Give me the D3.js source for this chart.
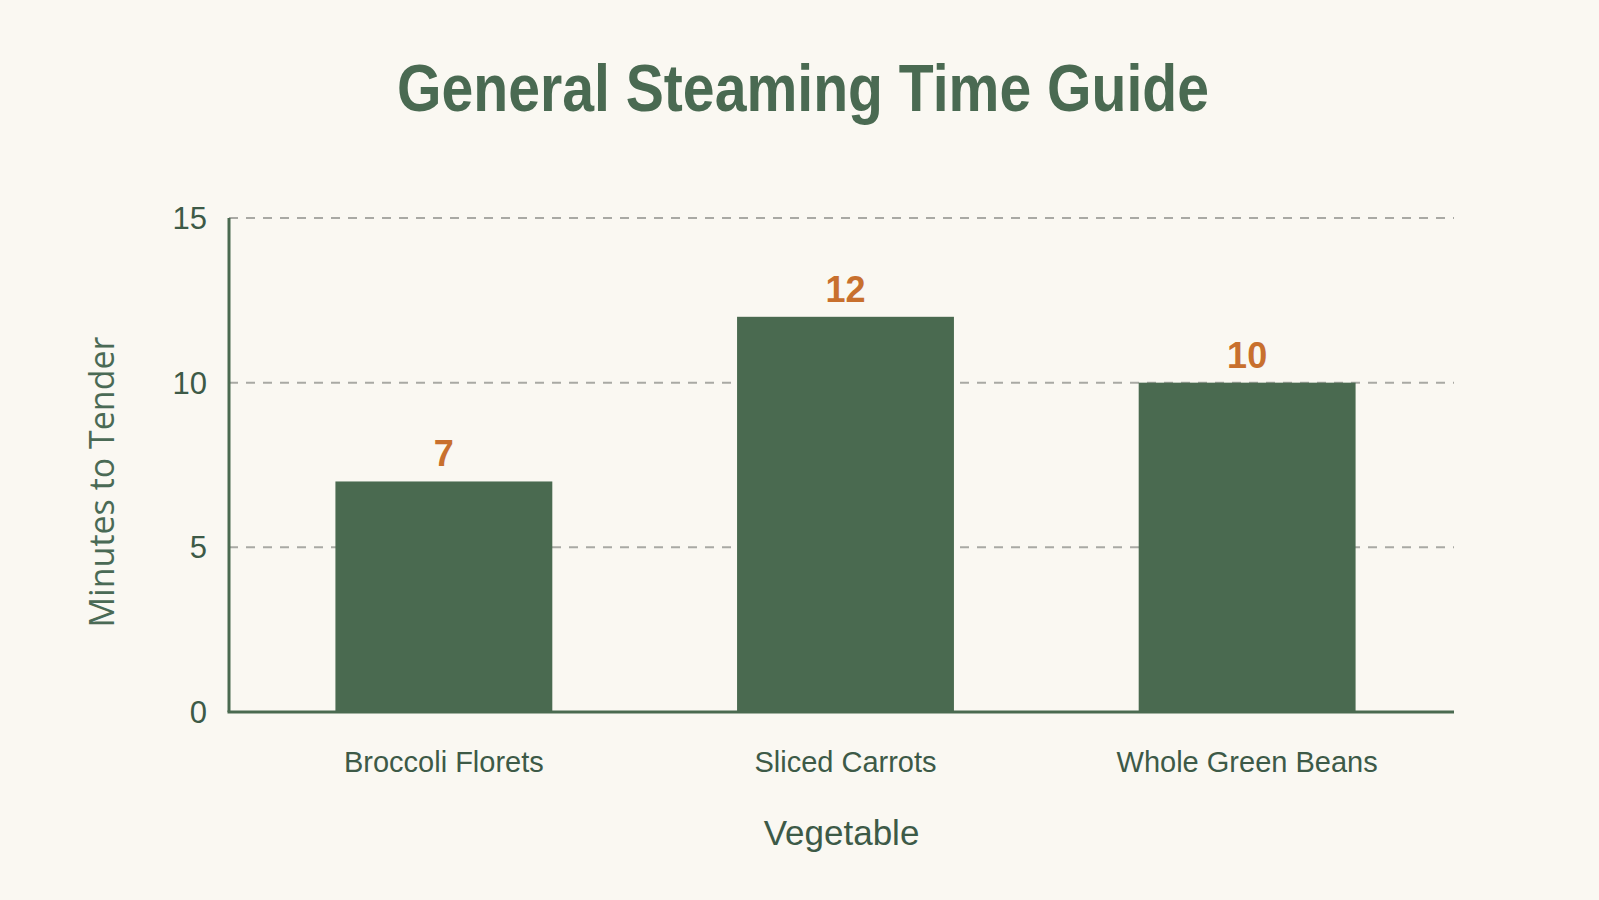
<!DOCTYPE html>
<html>
<head>
<meta charset="utf-8">
<script src="https://cdn.jsdelivr.net/npm/d3@7"></script>
<style>
  html, body { margin: 0; padding: 0; background: #faf8f2; }
  svg text { font-family: "Liberation Sans Narrow", "Liberation Sans", sans-serif; }
</style>
</head>
<body>
<div id="container"></div>
<script>
// Chart data
var vegetables = ["Broccoli Florets", "Sliced Carrots", "Whole Green Beans"];
var minutes = [7, 12, 10];
var yTicks = [0, 5, 10, 15];

var width = 1599,
    height = 900;

var svg = d3.select("#container")
    .append("svg")
    .attr("width", width)
    .attr("height", height);

svg.append("rect")
    .attr("width", width)
    .attr("height", height)
    .attr("fill", "#faf8f2");

// Plot area
var plotLeft = 229, plotRight = 1454, plotTop = 218, plotBottom = 712;

var xScale = d3.scaleBand()
    .domain(vegetables)
    .range([plotLeft + 4, plotRight + 4])
    .paddingInner(0.46)
    .paddingOuter(0.255);

var yScale = d3.scaleLinear()
    .domain([0, 15])
    .range([plotBottom, plotTop]);

// Title
svg.append("text")
    .attr("x", 803)
    .attr("y", 111)
    .attr("text-anchor", "middle")
    .attr("textLength", 812)
    .attr("lengthAdjust", "spacingAndGlyphs")
    .style("font-size", "66px")
    .style("font-weight", "bold")
    .style("fill", "#4a6a52")
    .text("General Steaming Time Guide");

// Dashed grid lines (not at zero)
svg.selectAll(".grid")
    .data(yTicks.filter(function(d) { return d > 0; }))
    .enter()
    .append("line")
    .attr("class", "grid")
    .attr("x1", plotLeft)
    .attr("x2", plotRight)
    .attr("y1", function(d) { return yScale(d); })
    .attr("y2", function(d) { return yScale(d); })
    .attr("stroke", "#a9a9a4")
    .attr("stroke-width", 2)
    .attr("stroke-dasharray", "9,8");

// Bars
svg.selectAll(".bar")
    .data(vegetables)
    .enter()
    .append("rect")
    .attr("class", "bar")
    .attr("x", function(d) { return xScale(d); })
    .attr("width", xScale.bandwidth())
    .attr("y", function(d, i) { return yScale(minutes[i]); })
    .attr("height", function(d, i) { return plotBottom - yScale(minutes[i]); })
    .attr("fill", "#4a6a50");

// Value labels
svg.selectAll(".value")
    .data(vegetables)
    .enter()
    .append("text")
    .attr("class", "value")
    .attr("x", function(d) { return xScale(d) + xScale.bandwidth() / 2; })
    .attr("y", function(d, i) { return yScale(minutes[i]) - 15; })
    .attr("text-anchor", "middle")
    .style("font-size", "36px")
    .style("font-weight", "bold")
    .style("fill", "#c8702e")
    .text(function(d, i) { return minutes[i]; });

// Axis lines
svg.append("line")
    .attr("x1", plotLeft).attr("x2", plotLeft)
    .attr("y1", plotTop).attr("y2", plotBottom)
    .attr("stroke", "#4a6a50")
    .attr("stroke-width", 3);
svg.append("line")
    .attr("x1", plotLeft - 1.5).attr("x2", plotRight)
    .attr("y1", plotBottom).attr("y2", plotBottom)
    .attr("stroke", "#4a6a50")
    .attr("stroke-width", 3);

// Y tick labels
svg.selectAll(".ytick")
    .data(yTicks)
    .enter()
    .append("text")
    .attr("class", "ytick")
    .attr("x", plotLeft - 22)
    .attr("y", function(d) { return yScale(d); })
    .attr("dy", "0.35em")
    .attr("text-anchor", "end")
    .style("font-size", "31px")
    .style("fill", "#3d5a47")
    .text(function(d) { return d; });

// X tick labels
svg.selectAll(".xtick")
    .data(vegetables)
    .enter()
    .append("text")
    .attr("class", "xtick")
    .attr("x", function(d) { return xScale(d) + xScale.bandwidth() / 2; })
    .attr("y", 772)
    .attr("text-anchor", "middle")
    .style("font-size", "29px")
    .style("fill", "#3d5a47")
    .text(function(d) { return d; });

// Axis titles
svg.append("text")
    .attr("x", (plotLeft + plotRight) / 2)
    .attr("y", 845)
    .attr("text-anchor", "middle")
    .style("font-size", "35px")
    .style("fill", "#3d5a47")
    .text("Vegetable");

svg.append("text")
    .attr("transform", "translate(114,482) rotate(-90)")
    .attr("text-anchor", "middle")
    .style("font-family", "'Open Sans', sans-serif")
    .style("font-size", "34px")
    .style("fill", "#4a6a55")
    .text("Minutes to Tender");
</script>
</body>
</html>
